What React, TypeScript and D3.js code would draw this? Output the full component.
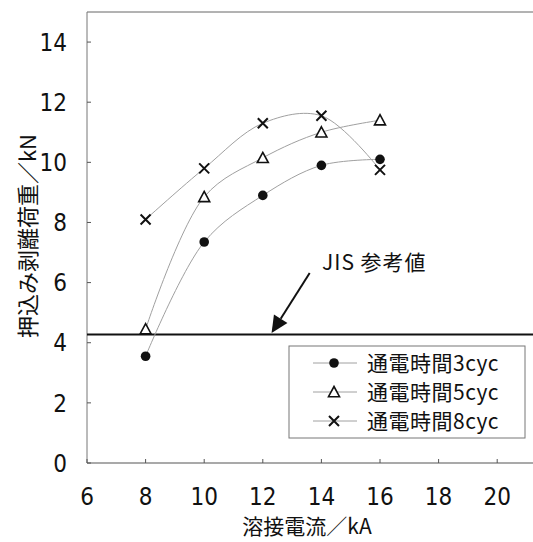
import { useEffect, useRef } from 'react';
import * as d3 from 'd3';

const currents = [8, 10, 12, 14, 16];
const load3cyc = [3.55, 7.35, 8.9, 9.9, 10.1];
const load5cyc = [4.45, 8.85, 10.15, 11.0, 11.4];
const load8cyc = [8.1, 9.8, 11.3, 11.55, 9.75];
const seriesNames = ['通電時間3cyc', '通電時間5cyc', '通電時間8cyc'];
const seriesMarkers = ['circle', 'triangle', 'cross'];
const xTicks = [6, 8, 10, 12, 14, 16, 18, 20];
const yTicks = [0, 2, 4, 6, 8, 10, 12, 14];
const jisValue = 4.27;
const jisLabel = 'JIS 参考値';
const arrowTail = [13.6, 6.32];
const arrowTip = [12.3, 4.32];

const NUM_FONT = '"Liberation Sans Narrow", "DejaVu Sans Condensed", "Liberation Sans", sans-serif';
const CJK_FONT = '"Noto Sans CJK JP", sans-serif';

export default function App() {
  const svgRef = useRef<SVGSVGElement>(null);

  useEffect(() => {
    if (!svgRef.current) return;
    const svg = d3.select(svgRef.current);
    svg.selectAll('*').remove();

    const W = 533;
    const H = 542;
    svg.attr('width', W).attr('height', H);

    const x = d3.scaleLinear().domain([6, 22]).range([87, 87 + 16 * 29.3]);
    const y = d3.scaleLinear().domain([0, 15]).range([463, 12]);

    const g = svg.append('g');

    // plot frame (top + left + bottom, right side runs off the page)
    g.append('line')
      .attr('x1', x(6)).attr('x2', W).attr('y1', y(15)).attr('y2', y(15))
      .attr('stroke', '#666').attr('stroke-width', 1);
    g.append('line')
      .attr('x1', x(6)).attr('x2', W).attr('y1', y(0)).attr('y2', y(0))
      .attr('stroke', '#555').attr('stroke-width', 1.2);
    g.append('line')
      .attr('x1', x(6)).attr('x2', x(6)).attr('y1', y(0)).attr('y2', y(15))
      .attr('stroke', '#777').attr('stroke-width', 1);

    // ticks (inward)
    g.selectAll('.xt').data(xTicks).enter().append('line')
      .attr('x1', d => x(d)).attr('x2', d => x(d))
      .attr('y1', y(0)).attr('y2', y(0) - 4)
      .attr('stroke', '#555');
    g.selectAll('.yt').data(yTicks).enter().append('line')
      .attr('x1', x(6)).attr('x2', x(6) + 4)
      .attr('y1', d => y(d)).attr('y2', d => y(d))
      .attr('stroke', '#555');

    // tick labels
    g.selectAll('.xl').data(xTicks).enter().append('text')
      .attr('x', d => x(d)).attr('y', 505)
      .attr('text-anchor', 'middle')
      .attr('font-family', NUM_FONT).attr('font-size', 24)
      .attr('fill', '#111')
      .text(d => d);
    g.selectAll('.yl').data(yTicks).enter().append('text')
      .attr('x', 67).attr('y', d => y(d)).attr('dy', '0.36em')
      .attr('text-anchor', 'end')
      .attr('font-family', NUM_FONT).attr('font-size', 24)
      .attr('fill', '#111')
      .text(d => d);

    // axis titles
    g.append('text')
      .attr('x', 307).attr('y', 534)
      .attr('text-anchor', 'middle')
      .attr('font-family', CJK_FONT).attr('font-size', 21)
      .attr('fill', '#111')
      .text('溶接電流／kA');
    g.append('text')
      .attr('transform', `translate(36,236) rotate(-90)`)
      .attr('text-anchor', 'middle')
      .attr('font-family', CJK_FONT).attr('font-size', 22)
      .attr('fill', '#111')
      .text('押込み剥離荷重／kN');

    // JIS reference line
    g.append('line')
      .attr('x1', x(6)).attr('x2', W).attr('y1', y(jisValue)).attr('y2', y(jisValue))
      .attr('stroke', '#111').attr('stroke-width', 2);

    // arrow
    const tx = x(arrowTail[0]), ty = y(arrowTail[1]);
    const hx = x(arrowTip[0]), hy = y(arrowTip[1]);
    const ang = Math.atan2(hy - ty, hx - tx);
    const headLen = 17, headW = 8;
    const bx = hx - headLen * Math.cos(ang), by = hy - headLen * Math.sin(ang);
    g.append('line')
      .attr('x1', tx).attr('y1', ty).attr('x2', bx).attr('y2', by)
      .attr('stroke', '#111').attr('stroke-width', 2);
    g.append('path')
      .attr('d', `M${hx},${hy}L${bx + headW * Math.sin(ang)},${by - headW * Math.cos(ang)}L${bx - headW * Math.sin(ang)},${by + headW * Math.cos(ang)}Z`)
      .attr('fill', '#111');
    g.append('text')
      .attr('x', 322).attr('y', y(arrowTail[1]) - 3)
      .attr('font-family', CJK_FONT).attr('font-size', 21)
      .attr('letter-spacing', 1)
      .attr('fill', '#111')
      .text(jisLabel);

    // series
    const allSeries = [load3cyc, load5cyc, load8cyc];
    const line = d3.line<number>()
      .x((_, i) => x(currents[i]))
      .y(d => y(d))
      .curve(d3.curveCatmullRom.alpha(0.5));

    const drawMarker = (sel: any, type: string, cx: number, cy: number) => {
      if (type === 'circle') {
        sel.append('circle').attr('cx', cx).attr('cy', cy).attr('r', 4.8).attr('fill', '#111');
      } else if (type === 'triangle') {
        const s = 5.5;
        sel.append('path')
          .attr('d', `M${cx},${cy - s}L${cx + s},${cy + s * 0.85}L${cx - s},${cy + s * 0.85}Z`)
          .attr('fill', '#fff').attr('stroke', '#111').attr('stroke-width', 1.6);
      } else {
        const s = 5;
        sel.append('path')
          .attr('d', `M${cx - s},${cy - s}L${cx + s},${cy + s}M${cx + s},${cy - s}L${cx - s},${cy + s}`)
          .attr('stroke', '#111').attr('stroke-width', 2).attr('fill', 'none');
      }
    };

    allSeries.forEach(vals => {
      g.append('path')
        .attr('d', line(vals))
        .attr('fill', 'none')
        .attr('stroke', '#a0a0a0')
        .attr('stroke-width', 1);
    });
    allSeries.forEach((vals, si) => {
      const mg = g.append('g');
      vals.forEach((v, i) => drawMarker(mg, seriesMarkers[si], x(currents[i]), y(v)));
    });

    // legend
    const lg = g.append('g');
    lg.append('rect')
      .attr('x', 289).attr('y', 346).attr('width', 236).attr('height', 92)
      .attr('fill', '#fff').attr('stroke', '#777').attr('stroke-width', 1);
    seriesNames.forEach((name, i) => {
      const cy = 363 + i * 29;
      lg.append('line')
        .attr('x1', 313).attr('x2', 357).attr('y1', cy).attr('y2', cy)
        .attr('stroke', '#a0a0a0').attr('stroke-width', 1);
      drawMarker(lg, seriesMarkers[i], 334, cy);
      lg.append('text')
        .attr('x', 367).attr('y', cy).attr('dy', '0.36em')
        .attr('font-family', CJK_FONT).attr('font-size', 21)
        .attr('letter-spacing', 0.5)
        .attr('fill', '#111')
        .text(name);
    });
  }, []);

  return (
    <div style={{ position: 'absolute', left: 0, top: 0 }}>
      <svg ref={svgRef} style={{ display: 'block', background: '#fff' }} />
    </div>
  );
}
